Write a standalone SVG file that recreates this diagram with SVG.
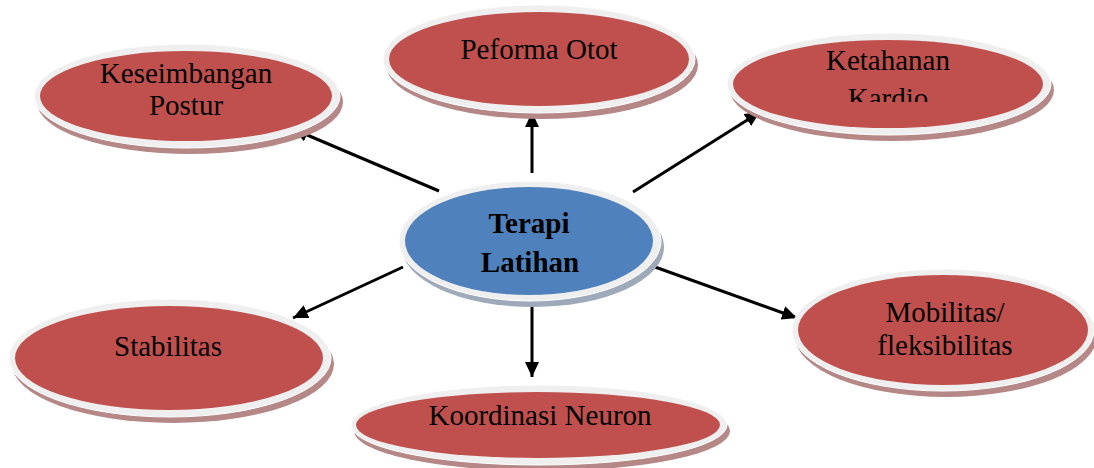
<svg xmlns="http://www.w3.org/2000/svg" width="1094" height="468" viewBox="0 0 1094 468">
<style>
.shR{fill:#b58787}
.shB{fill:#9ea9ba}
.ring{fill:#efefef;stroke:#ffffff;stroke-width:1}
.red{fill:#c0504d}
.blue{fill:#4f81bd}
.t{font-family:"Liberation Serif","Times New Roman",serif;font-size:29px;fill:#000;text-anchor:middle}
.b{font-weight:bold}
.c{stroke:#000;stroke-width:3;fill:none;marker-end:url(#ah)}
</style>
<defs>
<marker id="ah" markerUnits="userSpaceOnUse" markerWidth="16" markerHeight="14" refX="15" refY="7" orient="auto">
<path d="M0,0 L15,7 L0,14 z" fill="#000"/>
</marker>
<clipPath id="clipK"><rect x="720" y="20" width="350" height="82"/></clipPath>
</defs>
<rect width="1094" height="468" fill="#fff"/>

<g id="connectors">
<line class="c" x1="439" y1="191" x2="293" y2="129"/>
<line class="c" x1="532" y1="173" x2="532" y2="112"/>
<line class="c" x1="633" y1="192" x2="760" y2="112"/>
<line class="c" x1="403" y1="267" x2="293" y2="318"/>
<line class="c" x1="532" y1="305" x2="532" y2="377"/>
<line class="c" x1="655" y1="267" x2="797" y2="318"/>
</g>

<g id="keseimbangan">
<ellipse class="shR" cx="190" cy="102" rx="153" ry="52"/>
<ellipse class="ring" cx="187" cy="96" rx="153" ry="52"/>
<ellipse class="red" cx="186" cy="96" rx="146" ry="45"/>
<text class="t" x="186" y="83">Keseimbangan</text>
<text class="t" x="186" y="115">Postur</text>
</g>

<g id="peforma">
<ellipse class="shR" cx="542" cy="65" rx="156" ry="54"/>
<ellipse class="ring" cx="539" cy="59" rx="156" ry="54"/>
<ellipse class="red" cx="539" cy="59" rx="150" ry="47"/>
<text class="t" x="539" y="59">Peforma Otot</text>
</g>

<g id="ketahanan">
<ellipse class="shR" cx="892" cy="90" rx="162" ry="51"/>
<ellipse class="ring" cx="889" cy="84" rx="162" ry="51"/>
<ellipse class="red" cx="888" cy="84" rx="155" ry="44"/>
<g clip-path="url(#clipK)">
<text class="t" x="888" y="70">Ketahanan</text>
<text class="t" x="888" y="108">Kardio</text>
</g>
</g>

<g id="terapi">
<ellipse class="shB" cx="533" cy="247" rx="131" ry="60"/>
<ellipse class="ring" cx="530" cy="241" rx="131" ry="60"/>
<ellipse class="blue" cx="529" cy="241" rx="124" ry="54"/>
<text class="t b" x="529" y="233">Terapi</text>
<text class="t b" x="530" y="272">Latihan</text>
</g>

<g id="stabilitas">
<ellipse class="shR" cx="173" cy="364" rx="161" ry="59"/>
<ellipse class="ring" cx="170" cy="358" rx="161" ry="59"/>
<ellipse class="red" cx="169" cy="358" rx="154" ry="52"/>
<text class="t" x="168" y="356">Stabilitas</text>
</g>

<g id="koordinasi">
<ellipse class="shR" cx="542" cy="431" rx="188" ry="40"/>
<ellipse class="ring" cx="539" cy="425" rx="188" ry="40"/>
<ellipse class="red" cx="538" cy="425" rx="182" ry="33"/>
<text class="t" x="540" y="425">Koordinasi Neuron</text>
</g>

<g id="mobilitas">
<ellipse class="shR" cx="946" cy="336" rx="151" ry="61"/>
<ellipse class="ring" cx="943" cy="330" rx="151" ry="61"/>
<ellipse class="red" cx="943" cy="330" rx="145" ry="55"/>
<text class="t" x="945" y="322">Mobilitas/</text>
<text class="t" x="945" y="355">fleksibilitas</text>
</g>
</svg>
